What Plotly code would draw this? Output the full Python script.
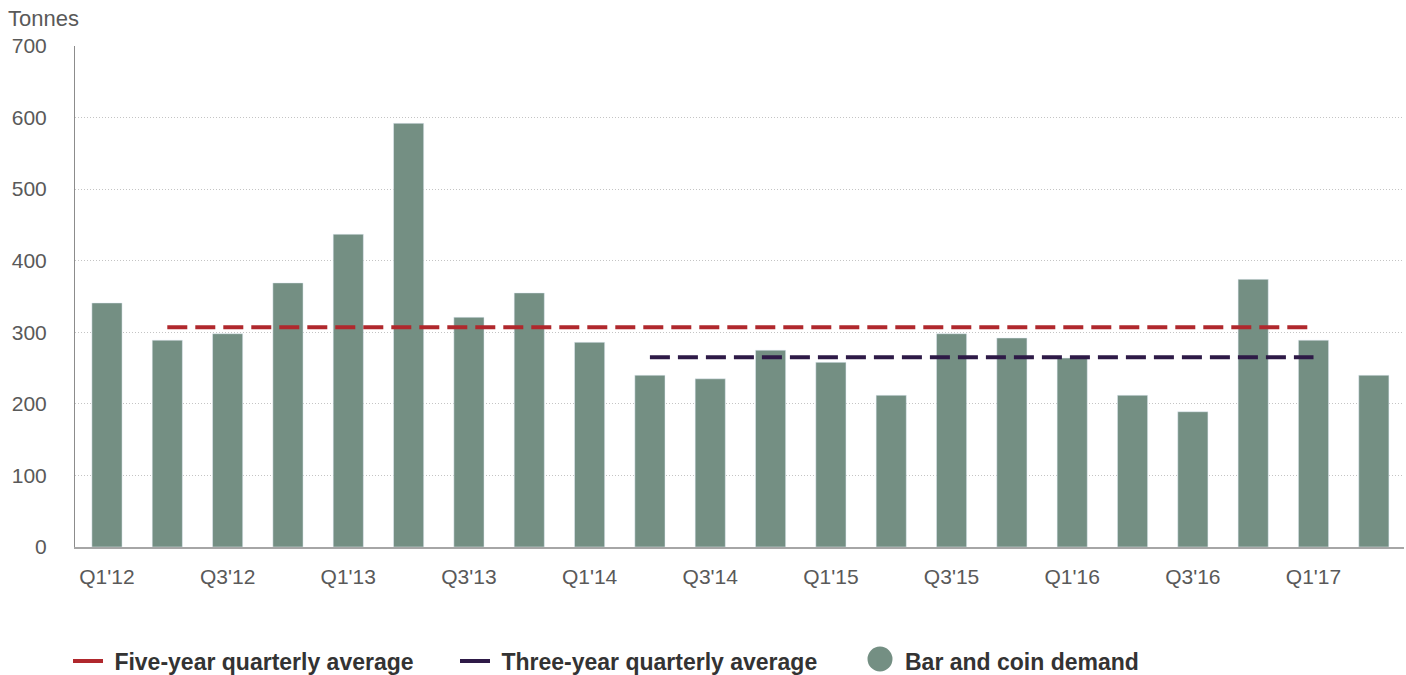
import plotly.graph_objects as go

quarters = ["Q1'12", "Q2'12", "Q3'12", "Q4'12",
            "Q1'13", "Q2'13", "Q3'13", "Q4'13",
            "Q1'14", "Q2'14", "Q3'14", "Q4'14",
            "Q1'15", "Q2'15", "Q3'15", "Q4'15",
            "Q1'16", "Q2'16", "Q3'16", "Q4'16",
            "Q1'17", "Q2'17"]
bar_coin = [341, 289, 298, 369, 437, 592, 321, 355, 286, 240, 235, 275,
            258, 212, 298, 292, 264, 212, 189, 374, 289, 240]
five_year_avg = 307
five_year_span = ["Q2'12", "Q1'17"]
three_year_avg = 265
three_year_span = ["Q2'14", "Q1'17"]
tick_labels = ["Q1'12", "Q3'12", "Q1'13", "Q3'13", "Q1'14", "Q3'14",
               "Q1'15", "Q3'15", "Q1'16", "Q3'16", "Q1'17"]

BAR = "#748F83"
RED = "#B0282D"
PURPLE = "#2E1A47"
FONT = "Liberation Sans, Arial, sans-serif"
TXT = "#595959"

fig = go.Figure()
fig.add_trace(go.Bar(x=quarters, y=bar_coin, marker_color=BAR, width=0.5,
                     showlegend=False, name="Bar and coin demand"))
fig.add_trace(go.Scatter(x=five_year_span, y=[five_year_avg] * 2, mode="lines",
                         line=dict(color=RED, width=4, dash="20px,8px"),
                         showlegend=False))
fig.add_trace(go.Scatter(x=three_year_span, y=[three_year_avg] * 2, mode="lines",
                         line=dict(color=PURPLE, width=4, dash="20px,8px"),
                         showlegend=False))

# legend entries
fig.add_trace(go.Scatter(x=[None], y=[None], mode="lines", name="\u00a0Five-year quarterly average",
                         line=dict(color=RED, width=4), legend="legend"))
fig.add_trace(go.Scatter(x=[None], y=[None], mode="lines", name="\u00a0Three-year quarterly average",
                         line=dict(color=PURPLE, width=4), legend="legend2"))
fig.add_trace(go.Scatter(x=[None], y=[None], mode="markers", name="Bar and coin demand",
                         marker=dict(color="rgba(0,0,0,0)", size=1), legend="legend3"))

leg_common = dict(orientation="h", xref="container", yref="container", yanchor="middle",
                  xanchor="left", font=dict(family=FONT, size=23, color="#333333", weight="bold"),
                  itemwidth=30, bgcolor="rgba(0,0,0,0)")
ly = 1 - 661 / 675
fig.update_layout(
    legend=dict(x=68 / 1406, y=ly, **leg_common),
    legend2=dict(x=455 / 1406, y=ly, **leg_common),
    legend3=dict(x=865 / 1406, y=ly, **leg_common),
)

# large circle swatch for the bar legend entry (legend markers are size-capped)
PW, PH, PL, PB = 1329, 501, 75, 547
cx, cy, r = 880, 659, 12.5
fig.add_shape(type="circle", xref="paper", yref="paper",
              x0=(cx - r - PL) / PW, x1=(cx + r - PL) / PW,
              y0=(PB - (cy + r)) / PH, y1=(PB - (cy - r)) / PH,
              fillcolor=BAR, line=dict(width=0), layer="above")

fig.update_layout(
    width=1406, height=675,
    margin=dict(l=75, r=2, t=46, b=128),
    plot_bgcolor="white", paper_bgcolor="white",
    font=dict(family=FONT, color=TXT),
    xaxis=dict(type="category", range=[-0.53, 21.5], tickmode="array",
               tickvals=tick_labels, ticktext=tick_labels,
               tickfont=dict(size=21, color=TXT), ticks="",
               showgrid=False, showline=True, linecolor="#A6A6A6", linewidth=2,
               ticklabelstandoff=10),
    yaxis=dict(range=[0, 700], tickvals=[0, 100, 200, 300, 400, 500, 600, 700],
               tickfont=dict(size=21, color=TXT), ticks="",
               showgrid=True, gridcolor="#C4C4C4", griddash="1px,2px", gridwidth=1,
               showline=True, linecolor="#8C8C8C", linewidth=1,
               zeroline=False, ticklabelstandoff=23),
    annotations=[dict(text="Tonnes", xref="paper", yref="paper", x=-75 / 1329, y=1 + 28 / 501,
                      xanchor="left", yanchor="middle", showarrow=False,
                      font=dict(size=22, color=TXT, family=FONT), xshift=6)],
    bargap=0.5,
)

fig.write_html("out.html")
